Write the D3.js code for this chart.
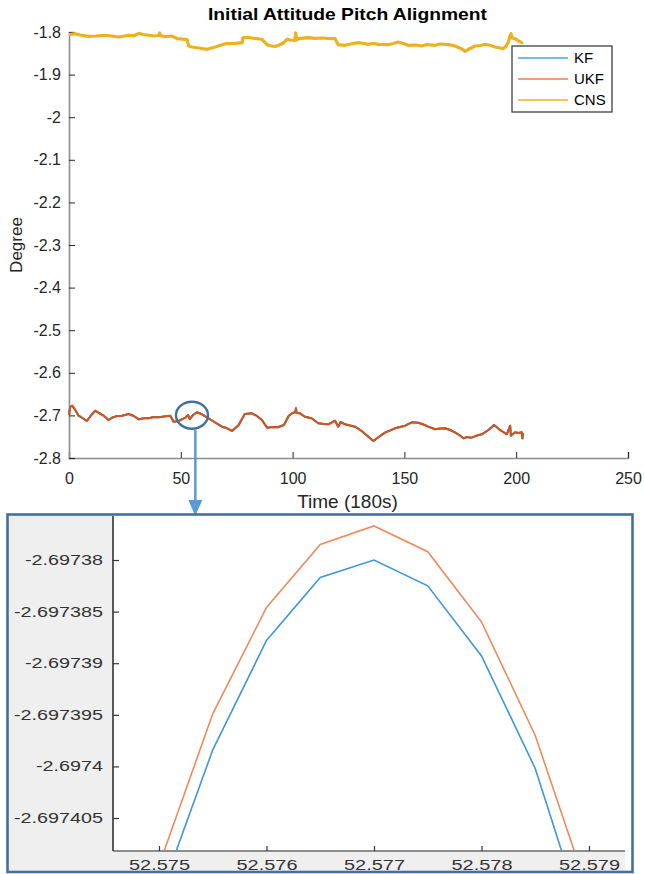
<!DOCTYPE html>
<html>
<head>
<meta charset="utf-8">
<script src="https://cdn.jsdelivr.net/npm/d3@7"></script>
<style>
  html, body { margin: 0; padding: 0; background: #fff; }
  svg { display: block; font-family: "Liberation Sans", Arial, sans-serif; }
</style>
</head>
<body>
<svg id="chart" width="645" height="874"></svg>
<script>
// ---------------- DATA ----------------
const seriesNames = ["KF", "UKF", "CNS"];
const seriesColors = ["#0072bd", "#d95319", "#edb120"];
const legendColors = ["#4da3df", "#ee7d4b", "#f0b429"];

const xTicks = [0, 50, 100, 150, 200, 250];
const yTicks = [-2.8, -2.7, -2.6, -2.5, -2.4, -2.3, -2.2, -2.1, -2, -1.9, -1.8];

// CNS pitch (time, degree)
const cnsTime = [0, 2.8, 5, 8.8, 12, 16.2, 19, 22.2, 26.7, 29, 31.2, 33, 35.6, 38, 40.1, 40.5, 41, 43.1, 46, 48.3,
  52.8, 53.5, 55, 58, 61.7, 63, 65.4, 69.9, 72, 74.4, 77.4, 77.8, 80, 81.8, 86.3, 87.5, 88.6, 90.5, 92.3, 94,
  96.1, 97.5, 99, 101, 101.4, 101.8, 102.6, 107, 110, 113, 116, 119, 120.4, 123.4, 126, 129.4, 132, 133.9, 136, 138.3,
  142.8, 145, 147.3, 149.5, 151.7, 155, 157.7, 160, 163.7, 166, 169.6, 172, 175.6, 177.1, 179, 181.6, 184, 186, 188, 190.5,
  193, 194.2, 195.5, 196.5, 197.2, 197.7, 198.3, 199.5, 201, 202.5, 203];
const cnsValue = [-1.8063, -1.8040, -1.8070, -1.8101, -1.8094, -1.8077, -1.8094, -1.8117, -1.8077, -1.8087, -1.8031, -1.8059, -1.8077, -1.8094, -1.8082, -1.8023, -1.8088, -1.8110, -1.8094, -1.8157,
  -1.8181, -1.8329, -1.8352, -1.8376, -1.8406, -1.8387, -1.8352, -1.8275, -1.8270, -1.8265, -1.8251, -1.8134, -1.8124, -1.8141, -1.8171, -1.8235, -1.8298, -1.8329, -1.8336, -1.8305,
  -1.8251, -1.8171, -1.8188, -1.8195, -1.8023, -1.8188, -1.8157, -1.8134, -1.8148, -1.8141, -1.8153, -1.8157, -1.8298, -1.8312, -1.8282, -1.8251, -1.8270, -1.8289, -1.8265, -1.8289,
  -1.8298, -1.8270, -1.8235, -1.8270, -1.8312, -1.8305, -1.8329, -1.8294, -1.8312, -1.8282, -1.8298, -1.8317, -1.8392, -1.8453, -1.8399, -1.8329, -1.8317, -1.8289, -1.8305, -1.8352,
  -1.8376, -1.8392, -1.8329, -1.8235, -1.8094, -1.8040, -1.8141, -1.8157, -1.8211, -1.8251, -1.8235];

// KF / UKF pitch (time, degree) - identical at this scale
const filtTime = [0, 0.5, 1.5, 2.8, 4.3, 6, 8, 10, 11.7, 13.5, 15.5, 17.7, 19.2, 21.5, 23.7, 26.7, 29, 31.2, 33.5, 35.6,
  38, 40.1, 42.5, 45.3, 46.8, 49, 52, 53.2, 54, 55.5, 57.2, 59.5, 62.4, 65, 68.4, 70.5, 72.9, 75.9, 78.6, 81.8,
  84, 86.3, 88.6, 91, 93.4, 96.1, 98.3, 100, 101.2, 101.5, 101.8, 103.3, 105.5, 108.5, 111.5, 114, 116, 119, 120.4, 121.5,
  123.4, 127.9, 130.9, 133.5, 136.1, 138.5, 141.3, 145.8, 148, 150.3, 153.3, 156.2, 158.5, 160.7, 163.7, 166, 168.2, 170.5, 172.6, 174.5,
  176.4, 178, 180.1, 182.5, 184.6, 187.6, 190.1, 192.8, 195.8, 197.3, 197.6, 199.5, 201, 202.5, 202.8, 203];
const ukfValue = [-2.6991, -2.6803, -2.6772, -2.6873, -2.7007, -2.7061, -2.7131, -2.6991, -2.6890, -2.6944, -2.7007, -2.7108, -2.7054, -2.7014, -2.7007, -2.6967, -2.7014, -2.7092, -2.7068, -2.7068,
  -2.7038, -2.7045, -2.7026, -2.7007, -2.7148, -2.7131, -2.7054, -2.6991, -2.7085, -2.6991, -2.6927, -2.6974, -2.7068, -2.7155, -2.7265, -2.7296, -2.7366, -2.7225, -2.6967, -2.6951,
  -2.7014, -2.7108, -2.7289, -2.7272, -2.7279, -2.7225, -2.7007, -2.6944, -2.6927, -2.6834, -2.6944, -2.6951, -2.7031, -2.7068, -2.7185, -2.7202, -2.7209, -2.7125, -2.7265, -2.7155,
  -2.7209, -2.7265, -2.7366, -2.7484, -2.7601, -2.7507, -2.7406, -2.7303, -2.7272, -2.7242, -2.7162, -2.7171, -2.7214, -2.7265, -2.7326, -2.7308, -2.7303, -2.7343, -2.7397, -2.7460,
  -2.7538, -2.7507, -2.7523, -2.7472, -2.7444, -2.7343, -2.7225, -2.7343, -2.7444, -2.7242, -2.7477, -2.7397, -2.7413, -2.7397, -2.7538, -2.7413];
const kfValue = ukfValue.slice();

// Zoomed detail near t = 52.577
const zoomTime = [52.575, 52.5755, 52.576, 52.5765, 52.577, 52.5775, 52.578, 52.5785, 52.579];
const zoomKF  = [-2.6974128, -2.6973984, -2.6973878, -2.6973817, -2.6973800, -2.6973825, -2.6973893, -2.6974002, -2.6974165];
const zoomUKF = [-2.6974096, -2.6973949, -2.6973846, -2.6973785, -2.6973767, -2.6973792, -2.6973860, -2.6973970, -2.6974124];
const zoomXTicks = [52.575, 52.576, 52.577, 52.578, 52.579];
const zoomXLabels = ["52.575", "52.576", "52.577", "52.578", "52.579"];
const zoomYTicks = [-2.69738, -2.697385, -2.69739, -2.697395, -2.6974, -2.697405];
const zoomYLabels = ["-2.69738", "-2.697385", "-2.69739", "-2.697395", "-2.6974", "-2.697405"];

// ---------------- DRAW ----------------
const svg = d3.select("#chart");

// ---- main axes ----
const x = d3.scaleLinear().domain([0, 250]).range([69, 628]);
const y = d3.scaleLinear().domain([-2.8, -1.8]).range([458, 32]);

const main = svg.append("g");

const xAxis = d3.axisBottom(x).tickValues(xTicks).tickSize(-6).tickPadding(15).tickFormat(d3.format("d"));
const yAxis = d3.axisLeft(y).tickValues(yTicks).tickSize(-6).tickPadding(8).tickFormat(d => String(+d.toFixed(1)).replace("-", "-"));

const gx = main.append("g").attr("transform", "translate(0,458)").call(xAxis);
const gy = main.append("g").attr("transform", "translate(69,0)").call(yAxis);
[gx, gy].forEach(g => {
  g.select(".domain").attr("stroke", "#8c8c8c").attr("stroke-width", 1.6);
  g.selectAll(".tick line").attr("stroke", "#262626").attr("stroke-width", 1);
  g.selectAll(".tick text").attr("fill", "#262626").attr("font-size", 16)
    .attr("font-family", "'Liberation Sans', Arial, sans-serif");
});

const line = (xs, ys) => d3.line().x((d, i) => x(xs[i])).y((d, i) => y(ys[i]))(xs);

main.append("path").attr("d", line(filtTime, kfValue)).attr("fill", "none")
  .attr("stroke", seriesColors[0]).attr("stroke-width", 2).attr("stroke-linejoin", "round");
main.append("path").attr("d", line(filtTime, ukfValue)).attr("fill", "none")
  .attr("stroke", seriesColors[1]).attr("stroke-width", 2).attr("stroke-linejoin", "round");
main.append("path").attr("d", line(cnsTime, cnsValue)).attr("fill", "none")
  .attr("stroke", seriesColors[2]).attr("stroke-width", 3.2).attr("stroke-linejoin", "round");

// title and labels
svg.append("text").attr("x", 347.5).attr("y", 20).attr("text-anchor", "middle")
  .attr("font-size", 17).attr("font-weight", "bold").attr("fill", "#000")
  .attr("textLength", 279).attr("lengthAdjust", "spacingAndGlyphs")
  .text("Initial Attitude Pitch Alignment");
svg.append("text").attr("x", 347.5).attr("y", 508).attr("text-anchor", "middle")
  .attr("font-size", 19).attr("fill", "#262626").text("Time (180s)");
svg.append("text").attr("transform", "translate(22,245) rotate(-90)").attr("text-anchor", "middle")
  .attr("font-size", 17).attr("fill", "#262626").text("Degree");

// legend
const lg = svg.append("g");
lg.append("rect").attr("x", 512).attr("y", 46).attr("width", 100).attr("height", 66)
  .attr("fill", "#fff").attr("stroke", "#404040").attr("stroke-width", 1.3);
seriesNames.forEach((n, i) => {
  const yy = 58 + i * 21;
  lg.append("line").attr("x1", 518).attr("x2", 568).attr("y1", yy).attr("y2", yy)
    .attr("stroke", legendColors[i]).attr("stroke-width", 1.5);
  lg.append("text").attr("x", 574).attr("y", yy).attr("dy", "0.35em")
    .attr("font-size", 15).attr("fill", "#000").text(n);
});

// highlight ellipse and arrow
svg.append("ellipse").attr("cx", x(55)).attr("cy", y(-2.6995)).attr("rx", 16).attr("ry", 13.5)
  .attr("fill", "none").attr("stroke", "#41719c").attr("stroke-width", 2.4);
const ax = x(56.5);
svg.append("line").attr("x1", ax).attr("x2", ax).attr("y1", 430).attr("y2", 501)
  .attr("stroke", "#5b9bd5").attr("stroke-width", 2.5);
svg.append("path").attr("d", `M${ax - 7},500 L${ax + 7},500 L${ax},516 Z`).attr("fill", "#5b9bd5");

// ---- inset ----
const ins = svg.append("g");
ins.append("rect").attr("x", 8).attr("y", 515).attr("width", 624).attr("height", 357).attr("fill", "#fff");
ins.append("rect").attr("x", 8).attr("y", 515).attr("width", 105).attr("height", 357).attr("fill", "#efefef");
ins.append("rect").attr("x", 8).attr("y", 851).attr("width", 617).attr("height", 21).attr("fill", "#efefef");

const zx = d3.scaleLinear().domain([52.575, 52.579]).range([159, 589]);
const zy = d3.scaleLinear().domain([-2.69738, -2.697405]).range([560, 818]);

svg.append("defs").append("clipPath").attr("id", "insclip")
  .append("rect").attr("x", 113).attr("y", 516).attr("width", 512).attr("height", 335);

const zline = (ys) => d3.line().x((d, i) => zx(zoomTime[i])).y((d, i) => zy(ys[i]))(zoomTime);
const lines = ins.append("g").attr("clip-path", "url(#insclip)");
lines.append("path").attr("d", zline(zoomUKF)).attr("fill", "none").attr("stroke", "#ef8a5c").attr("stroke-width", 1.6);
lines.append("path").attr("d", zline(zoomKF)).attr("fill", "none").attr("stroke", "#3f97d6").attr("stroke-width", 1.6);

const zxAxis = d3.axisBottom(zx).tickValues(zoomXTicks).tickSize(-5).tickPadding(5)
  .tickFormat((d, i) => zoomXLabels[i]);
const zyAxis = d3.axisLeft(zy).tickValues(zoomYTicks).tickSize(-6).tickPadding(10)
  .tickFormat((d, i) => zoomYLabels[i]);
const gzx = ins.append("g").attr("transform", "translate(0,851)").call(zxAxis);
const gzy = ins.append("g").attr("transform", "translate(113,0)").call(zyAxis);
gzx.select(".domain").attr("d", "M113,0H625").attr("stroke", "#8c8c8c").attr("stroke-width", 2);
gzy.select(".domain").attr("d", "M0,516V851").attr("stroke", "#333").attr("stroke-width", 1.6);
[gzx, gzy].forEach(g => {
  g.selectAll(".tick line").attr("stroke", "#333").attr("stroke-width", 1.2);
  g.selectAll(".tick text").attr("fill", "#333").attr("font-size", 14)
    .attr("font-family", "'Liberation Sans', Arial, sans-serif")
    .attr("lengthAdjust", "spacingAndGlyphs")
    .attr("textLength", function() {
      const s = this.textContent;
      let w = 0;
      for (const c of s) w += (c === "." ? 6 : c === "-" ? 6 : 11);
      return w;
    });
});
gzx.selectAll(".tick text").attr("dy", "1em").attr("y", 5);

ins.append("rect").attr("x", 7.5).attr("y", 514.5).attr("width", 625).attr("height", 357.5)
  .attr("fill", "none").attr("stroke", "#41719c").attr("stroke-width", 2.6);
</script>
</body>
</html>
